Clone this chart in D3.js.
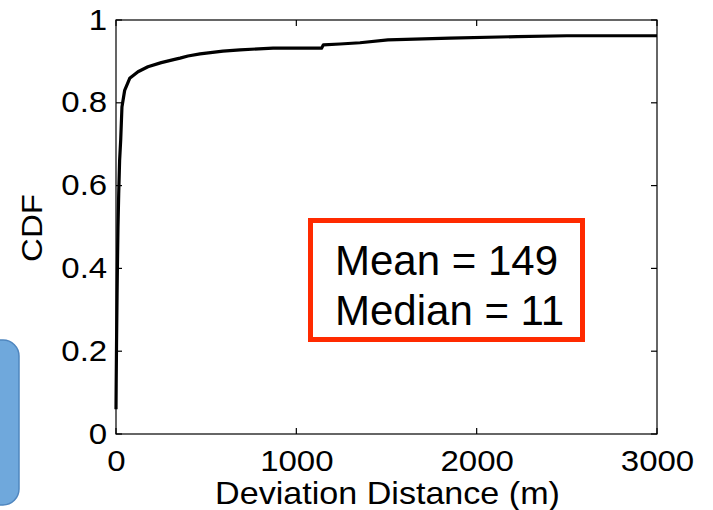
<!DOCTYPE html>
<html>
<head>
<meta charset="utf-8">
<script src="https://cdn.jsdelivr.net/npm/d3@7"></script>
<style>
  html, body { margin: 0; padding: 0; background: #fff; }
  svg { display: block; font-family: "Liberation Sans", Arial, sans-serif; }
</style>
</head>
<body>
<svg id="chart" width="713" height="510"></svg>
<script>
// Empirical CDF of deviation distance (metres)
const distances = [0, 1, 3, 6, 9, 11, 15, 20, 26, 33, 48, 76, 122, 177, 251, 325, 355, 399, 466, 593, 688, 871, 1140, 1150, 1242, 1353, 1508, 1852, 2224, 2500, 3000];
const cdfValues = [0.06, 0.12, 0.22, 0.34, 0.44, 0.5, 0.58, 0.66, 0.71, 0.79, 0.83, 0.859, 0.875, 0.887, 0.897, 0.905, 0.908, 0.913, 0.918, 0.925, 0.928, 0.932, 0.932, 0.94, 0.942, 0.945, 0.952, 0.956, 0.96, 0.962, 0.962];

const xTicks = [0, 1000, 2000, 3000];
const yTicks = [0, 0.2, 0.4, 0.6, 0.8, 1];
const yTickLabels = ["0", "0.2", "0.4", "0.6", "0.8", "1"];
const statLines = ["Mean = 149", "Median = 11"];

const svg = d3.select("#chart");
const plot = { left: 116, right: 657, top: 20, bottom: 434 };

const x = d3.scaleLinear().domain([0, 3000]).range([plot.left, plot.right]);
const y = d3.scaleLinear().domain([0, 1]).range([plot.bottom, plot.top]);

// Rounded blue callout at the lower-left edge
svg.append("rect")
  .attr("x", -20).attr("y", 340).attr("width", 39).attr("height", 165)
  .attr("rx", 16).attr("ry", 16)
  .attr("fill", "#6fa8dc").attr("stroke", "#4f86bf").attr("stroke-width", 1.5);

// Frame around the plot area
svg.append("rect")
  .attr("x", plot.left).attr("y", plot.top)
  .attr("width", plot.right - plot.left).attr("height", plot.bottom - plot.top)
  .attr("fill", "none").attr("stroke", "#000").attr("stroke-width", 1.2);

const tickLen = 6;
const fontTick = 30;
const wide = "scale(1.1,1)"; // slightly widened glyphs

// Bottom axis: labels + inward ticks (bottom and top)
const xAxisBottom = d3.axisBottom(x).tickValues(xTicks).tickSize(0).tickPadding(0).tickFormat(d3.format("d"));
const gx = svg.append("g").attr("transform", `translate(0,${plot.bottom})`).call(xAxisBottom);
gx.select(".domain").remove();
gx.selectAll("text").attr("font-size", fontTick).attr("fill", "#000").attr("dy", "1.22em")
  .attr("font-family", "Liberation Sans, Arial, sans-serif").attr("transform", wide);

svg.append("g").selectAll("line").data(xTicks).join("line")
  .attr("x1", d => x(d)).attr("x2", d => x(d))
  .attr("y1", plot.bottom).attr("y2", plot.bottom - tickLen)
  .attr("stroke", "#000").attr("stroke-width", 1.2);
svg.append("g").selectAll("line").data(xTicks).join("line")
  .attr("x1", d => x(d)).attr("x2", d => x(d))
  .attr("y1", plot.top).attr("y2", plot.top + tickLen)
  .attr("stroke", "#000").attr("stroke-width", 1.2);

// Left axis labels + inward ticks (left and right)
const yAxisLeft = d3.axisLeft(y).tickValues(yTicks).tickSize(0).tickPadding(8)
  .tickFormat((d, i) => yTickLabels[i]);
const gy = svg.append("g").attr("transform", `translate(${plot.left},0)`).call(yAxisLeft);
gy.select(".domain").remove();
gy.selectAll("text").attr("font-size", fontTick).attr("fill", "#000").attr("dy", "0.3em")
  .attr("font-family", "Liberation Sans, Arial, sans-serif").attr("transform", wide);

svg.append("g").selectAll("line").data(yTicks).join("line")
  .attr("x1", plot.left).attr("x2", plot.left + tickLen)
  .attr("y1", d => y(d)).attr("y2", d => y(d))
  .attr("stroke", "#000").attr("stroke-width", 1.2);
svg.append("g").selectAll("line").data(yTicks).join("line")
  .attr("x1", plot.right).attr("x2", plot.right - tickLen)
  .attr("y1", d => y(d)).attr("y2", d => y(d))
  .attr("stroke", "#000").attr("stroke-width", 1.2);

// Axis titles
svg.append("text")
  .attr("transform", `translate(${(plot.left + plot.right) / 2 + 1},504) ${wide}`)
  .attr("text-anchor", "middle").attr("font-size", 31).attr("fill", "#000")
  .text("Deviation Distance (m)");
svg.append("text")
  .attr("transform", `translate(42,${(plot.top + plot.bottom) / 2 + 1}) rotate(-90) ${wide}`)
  .attr("text-anchor", "middle").attr("font-size", 30).attr("fill", "#000")
  .text("CDF");

// CDF curve
const points = distances.map((d, i) => [d, cdfValues[i]]);
const line = d3.line().x(d => x(d[0])).y(d => y(d[1])).curve(d3.curveLinear);
svg.append("path")
  .datum(points)
  .attr("d", line)
  .attr("fill", "none").attr("stroke", "#000").attr("stroke-width", 3.2)
  .attr("stroke-linejoin", "round");

// Summary statistics box
svg.append("rect")
  .attr("x", 310.5).attr("y", 220.5).attr("width", 272).attr("height", 119)
  .attr("fill", "#fff").attr("stroke", "#ff2a00").attr("stroke-width", 5);
svg.append("g").selectAll("text").data(statLines).join("text")
  .attr("x", 335).attr("y", (d, i) => 275 + i * 50)
  .attr("font-size", 42).attr("fill", "#000")
  .text(d => d);
</script>
</body>
</html>
